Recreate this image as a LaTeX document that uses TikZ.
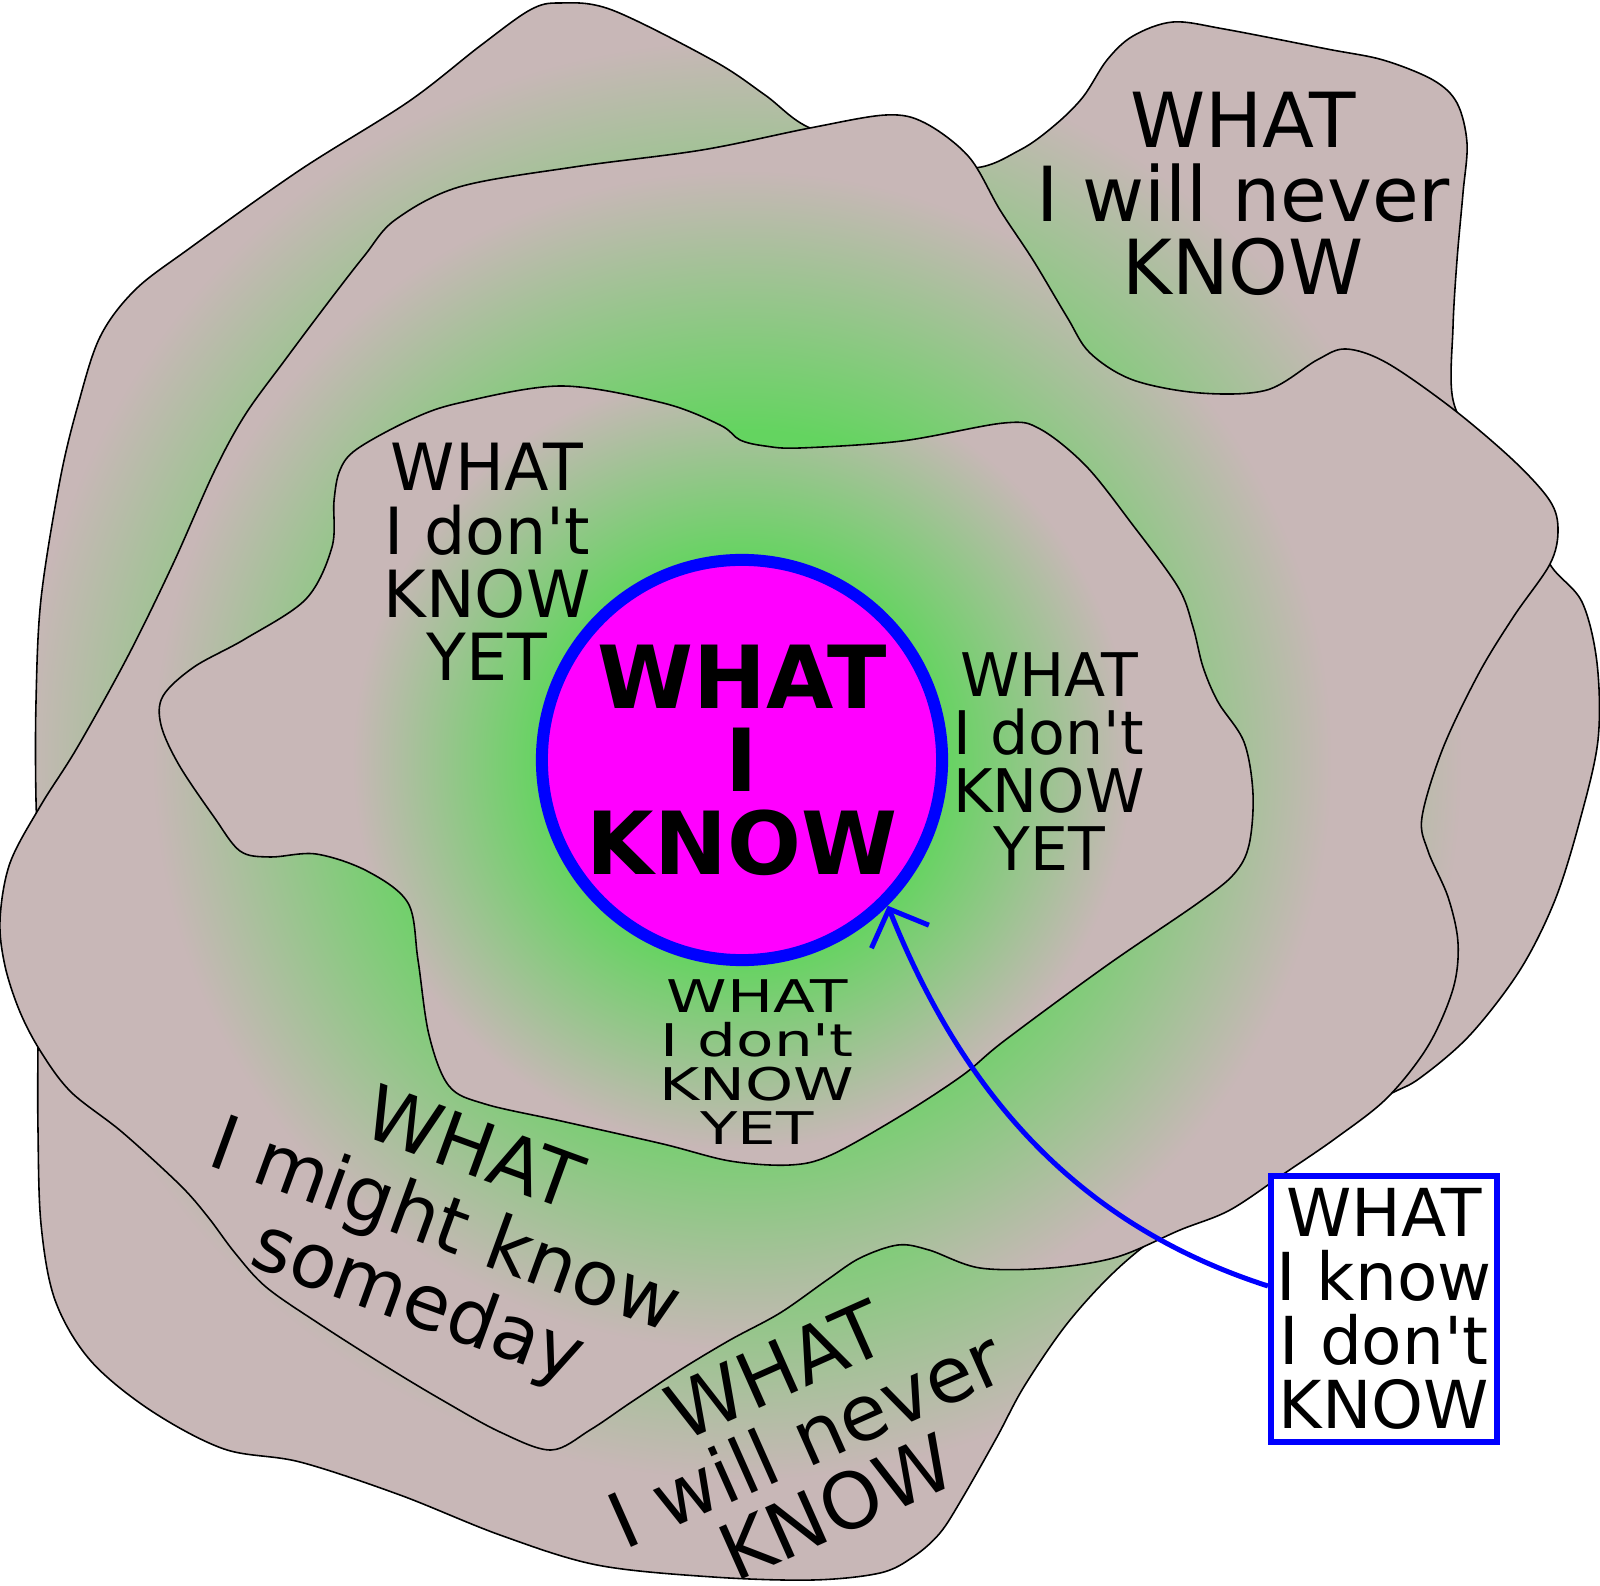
\documentclass[tikz,border=0pt]{standalone}
\usepackage{fontspec}
\setmainfont{DejaVu Sans}
\usetikzlibrary{arrows.meta,calc}
\definecolor{kgreen}{RGB}{100,212,96}
\definecolor{kgray}{RGB}{200,183,183}
\definecolor{kmag}{RGB}{255,0,255}
\definecolor{kblue}{RGB}{0,0,255}
\pgfdeclareradialshading{glowO}{\pgfpoint{0bp}{0bp}}{color(0bp)=(kgreen); color(14.6bp)=(kgreen); color(25bp)=(kgray); color(50bp)=(kgray)}
\pgfdeclareradialshading{glowM}{\pgfpoint{0bp}{0bp}}{color(0bp)=(kgreen); color(14bp)=(kgreen); color(25bp)=(kgray); color(50bp)=(kgray)}
\pgfdeclareradialshading{glowI}{\pgfpoint{0bp}{0bp}}{color(0bp)=(kgreen); color(12.8bp)=(kgreen); color(25bp)=(kgray); color(50bp)=(kgray)}
\newcommand\blobOuter{plot[smooth cycle, tension=0.55] coordinates {(40,900) (36,800) (36,702) (41,599) (60,480) (78,405) (100,337) (135,290) (190,248) (300,170) (408,102) (480,46) (530,10) (560,3) (612,10) (714,61) (765,95) (810,128) (890,150) (971,168) (1020,150) (1055,125) (1083,97) (1107,60) (1133,36) (1173,22) (1224,29) (1327,49) (1383,60) (1433,80) (1457,103) (1467,143) (1463,193) (1457,260) (1453,327) (1453,400) (1480,450) (1530,520) (1551,566) (1582,602) (1597,663) (1598,740) (1580,820) (1555,900) (1520,970) (1470,1035) (1420,1078) (1388,1095) (1300,1140) (1200,1205) (1125,1262) (1070,1320) (1025,1385) (997,1437) (963,1497) (940,1533) (913,1557) (880,1573) (813,1580) (713,1577) (597,1565) (500,1535) (400,1495) (300,1462) (224,1449) (150,1410) (90,1360) (55,1300) (41,1224) (38,1130) (38,1046)}}
\newcommand\blobMid{plot[smooth cycle, tension=0.55] coordinates {(0,920) (10,863) (41,805) (77,748) (128,656) (173,564) (214,472) (245,415) (285,360) (330,300) (365,255) (395,220) (459,187) (574,167) (702,150) (810,128) (886,115) (925,123) (969,157) (1000,210) (1033,260) (1067,317) (1090,353) (1133,380) (1200,393) (1267,390) (1317,360) (1346,349) (1387,363) (1453,409) (1514,461) (1550,501) (1558,530) (1550,564) (1514,616) (1479,673) (1443,748) (1422,817) (1428,851) (1448,897) (1458,943) (1453,989) (1428,1046) (1387,1098) (1336,1138) (1285,1173) (1230,1210) (1180,1230) (1117,1257) (1050,1268) (980,1268) (929,1250) (898,1245) (860,1258) (827,1280) (780,1313) (730,1340) (680,1370) (630,1403) (590,1430) (551,1450) (500,1432) (442,1400) (387,1367) (318,1323) (266,1287) (235,1253) (208,1217) (180,1185) (122,1132) (71,1092) (41,1052) (20,1012) (5,966)}}
\newcommand\blobIn{plot[smooth cycle, tension=0.55] coordinates {(334,501) (340,470) (357,449) (410,420) (459,403) (561,386) (663,403) (720,425) (740,440) (765,446) (800,448) (902,441) (1004,423) (1040,429) (1086,466) (1132,524) (1178,587) (1193,627) (1203,667) (1218,702) (1244,742) (1253,794) (1249,845) (1234,874) (1198,903) (1106,966) (1004,1041) (963,1075) (902,1115) (831,1155) (790,1165) (730,1161) (663,1144) (561,1121) (485,1104) (449,1086) (429,1035) (418,960) (408,903) (367,871) (316,854) (270,857) (240,851) (214,817) (179,765) (161,725) (163,696) (194,667) (245,639) (306,599) (332,547)}}
\begin{document}
\begin{tikzpicture}[x=0.01cm, y=-0.01cm,
  outl/.style={draw=black, line width=0.45pt},
  lbl/.style={align=center, inner sep=0pt, text=black}]
\useasboundingbox (0,0) rectangle (1600,1586);
% outer blob
\begin{scope}
  \clip \blobOuter;
  \fill[kgray] (0,0) rectangle (1600,1586);
  \shade[shading=glowO] (742,760) circle (720);
\end{scope}
\draw[outl] \blobOuter;
% middle blob
\begin{scope}
  \clip \blobMid;
  \fill[kgray] (0,0) rectangle (1600,1586);
  \shade[shading=glowM] (742,760) circle (590);
\end{scope}
\draw[outl] \blobMid;
% inner blob
\begin{scope}
  \clip \blobIn;
  \fill[kgray] (0,0) rectangle (1600,1586);
  \shade[shading=glowI] (742,760) circle (390);
\end{scope}
\draw[outl] \blobIn;
% centre
\node[circle, draw=kblue, line width=3.41pt, fill=kmag, minimum size=4cm, inner sep=0pt,
      align=center, font={\bfseries\fontsize{24.75}{23.6}\selectfont}] (know) at (742,760) {WHAT\\I\\KNOW};
% labels
\node[lbl, font={\fontsize{21.6}{20.8}\selectfont}] (nevertop) at (1243,194) {WHAT\\I will never\\KNOW};
\node[lbl, font={\fontsize{18.5}{18}\selectfont}] (yetleft) at (487,562) {WHAT\\I don\textquotesingle t\\KNOW\\YET};
\node[lbl, font={\fontsize{17.1}{16.5}\selectfont}] (yetright) at (1049,762) {WHAT\\I don\textquotesingle t\\KNOW\\YET};
\node[lbl, xscale=1.36, font={\fontsize{12.8}{12.5}\selectfont}] (yetbottom) at (757,1062) {WHAT\\I don\textquotesingle t\\KNOW\\YET};
\node[lbl, rotate=-20, font={\fontsize{21.6}{22.8}\selectfont}] (might) at (444,1230) {WHAT\\I might know\\someday};
\node[lbl, rotate=24, font={\fontsize{22}{21.3}\selectfont}] (neverbot) at (806,1439) {WHAT\\I will never\\KNOW};
% box
\node[draw=kblue, fill=white, line width=1.7pt, minimum width=2.26cm, minimum height=2.66cm, inner sep=0pt,
      align=center, font={\fontsize{18.8}{18.2}\selectfont}] (box) at (1384,1309) {WHAT\\I know\\I don\textquotesingle t\\KNOW};
% arrow
\draw[kblue, line width=1.42pt, -{Straight Barb[length=8.5pt, width=17.6pt]}]
  ($(box.west)+(0,-23)$) .. controls (1075,1224) and (962,1091) .. (know.-45);
\end{tikzpicture}
\end{document}
